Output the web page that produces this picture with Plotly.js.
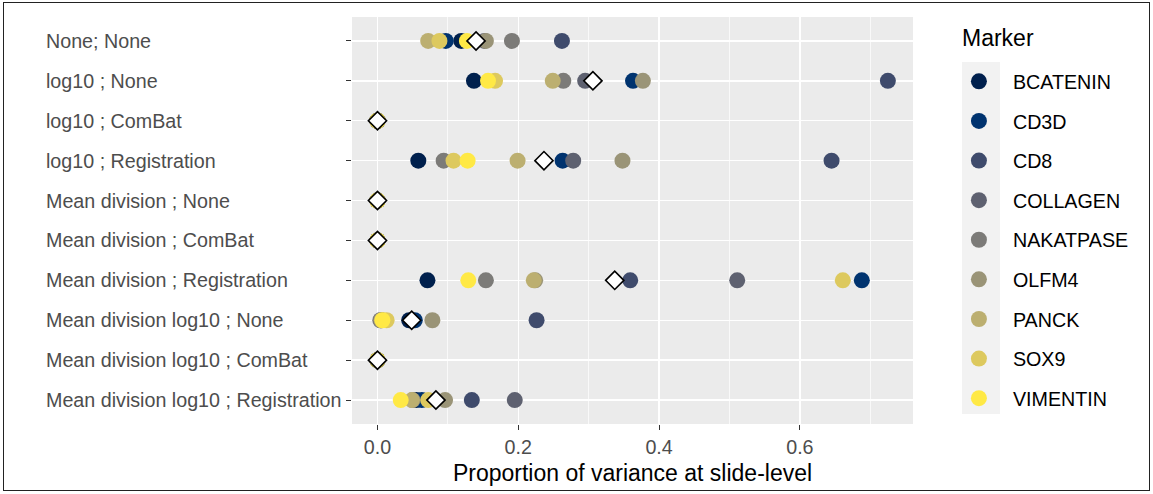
<!DOCTYPE html>
<html><head><meta charset="utf-8">
<script src="https://cdn.plot.ly/plotly-3.0.1.min.js"></script>
<style>
body{margin:0;background:#fff;}
#wrap{position:relative;width:1153px;height:494px;}
#frame{position:absolute;left:3px;top:2px;width:1145px;height:487px;border:1.5px solid #222;pointer-events:none;}
</style>
</head><body>
<div id="wrap"><div id="chart" style="width:1153px;height:494px;"></div><div id="frame"></div></div>
<script>
const categories = ["None; None","log10 ; None","log10 ; ComBat","log10 ; Registration","Mean division ; None","Mean division ; ComBat","Mean division ; Registration","Mean division log10 ; None","Mean division log10 ; ComBat","Mean division log10 ; Registration"];
const markers = ["BCATENIN","CD3D","CD8","COLLAGEN","NAKATPASE","OLFM4","PANCK","SOX9","VIMENTIN"];
const markerColors = ["#00204D","#00336F","#3F4B6C","#5E6170","#7C7B78","#9A9477","#BCAF70","#DDC95E","#FFE945"];

const BCATENIN  = [0.119, 0.137, 0, 0.058, 0, 0, 0.071, 0.045, 0, 0.055];
const CD3D      = [0.097, 0.363, 0, 0.263, 0, 0, 0.688, 0.053, 0, 0.063];
const CD8       = [0.262, 0.725, 0, 0.645, 0, 0, 0.359, 0.226, 0, 0.134];
const COLLAGEN  = [0.152, 0.295, 0, 0.278, 0, 0, 0.511, 0.005, 0, 0.195];
const NAKATPASE = [0.191, 0.264, 0, 0.094, 0, 0, 0.154, 0.004, 0, 0.050];
const OLFM4     = [0.154, 0.377, 0, 0.348, 0, 0, 0.224, 0.078, 0, 0.096];
const PANCK     = [0.072, 0.249, 0, 0.199, 0, 0, 0.222, 0.006, 0, 0.049];
const SOX9      = [0.088, 0.167, 0, 0.108, 0, 0, 0.661, 0.013, 0, 0.072];
const VIMENTIN  = [0.127, 0.157, 0, 0.128, 0, 0, 0.129, 0.007, 0, 0.033];
const meanValues = [0.140, 0.306, 0, 0.2365, 0, 0, 0.337, 0.0486, 0, 0.083];

const xTickVals = [0, 0.2, 0.4, 0.6];
const xTickText = ["0.0", "0.2", "0.4", "0.6"];
const xMinorVals = [0.1, 0.3, 0.5, 0.7];
const legendTitle = "Marker";
const xTitle = "Proportion of variance at slide-level";

const series = [BCATENIN, CD3D, CD8, COLLAGEN, NAKATPASE, OLFM4, PANCK, SOX9, VIMENTIN];
const FONT = "Liberation Sans, Arial, sans-serif";
const SMALL = 19.7, BIG = 23;

const traces = markers.map((m, i) => ({
  type: "scatter", mode: "markers", name: m, legendgroup: m,
  x: series[i], y: categories,
  marker: {color: markerColors[i], size: 16, line: {width: 0}},
  hoverinfo: "x+y+name"
}));
traces.push({
  type: "scatter", mode: "markers", name: "mean", showlegend: false,
  x: meanValues, y: categories,
  marker: {symbol: "diamond", size: 14, color: "#FFFFFF", line: {color: "#000000", width: 1.6}}
});

const annotations = categories.map(c => ({
  xref: "paper", yref: "y", x: -0.549, y: c, text: c,
  xanchor: "left", yanchor: "middle", showarrow: false,
  font: {size: SMALL, color: "#4D4D4D", family: FONT}
}));
annotations.push({
  xref: "paper", yref: "paper", x: 1.0837, y: 0.948, text: legendTitle,
  xanchor: "left", yanchor: "middle", showarrow: false,
  font: {size: BIG, color: "#000", family: FONT}
});

const layout = {
  width: 1153, height: 494,
  margin: {l: 352, r: 240, t: 17, b: 70},
  paper_bgcolor: "#FFFFFF", plot_bgcolor: "#EBEBEB",
  font: {family: FONT, color: "#000"},
  showlegend: true,
  xaxis: {
    range: [-0.0362, 0.7607], tickvals: xTickVals, ticktext: xTickText,
    showgrid: true, gridcolor: "#FFFFFF", gridwidth: 1.4, zeroline: false,
    minor: {tickvals: xMinorVals, showgrid: true, gridcolor: "#FFFFFF", gridwidth: 0.7, ticks: ""},
    ticks: "outside", ticklen: 5, tickwidth: 1.1, tickcolor: "#333333",
    tickfont: {size: SMALL, color: "#4D4D4D", family: FONT},
    title: {text: xTitle, font: {size: BIG, color: "#000", family: FONT}, standoff: 8},
    showline: false, fixedrange: true
  },
  yaxis: {
    type: "category", categoryorder: "array", categoryarray: categories,
    range: [9.6, -0.6], showticklabels: false,
    showgrid: true, gridcolor: "#FFFFFF", gridwidth: 1.4, zeroline: false,
    ticks: "outside", ticklen: 5, tickwidth: 1.1, tickcolor: "#333333",
    showline: false, fixedrange: true
  },
  legend: {
    font: {size: SMALL, color: "#000", family: FONT},
    x: 1.0569, y: 0.8894, xanchor: "left", yanchor: "top",
    bgcolor: "rgba(0,0,0,0)", traceorder: "grouped", tracegroupgap: 11,
    itemwidth: 58
  },
  annotations: annotations,
  shapes: [{
    type: "rect", xref: "paper", yref: "paper",
    x0: 1.0873, x1: 1.1551, y0: 0.0246, y1: 0.8894,
    fillcolor: "#F2F2F2", line: {width: 0}, layer: "below"
  }]
};

Plotly.newPlot("chart", traces, layout, {displayModeBar: false, staticPlot: true});
</script>
</body></html>
